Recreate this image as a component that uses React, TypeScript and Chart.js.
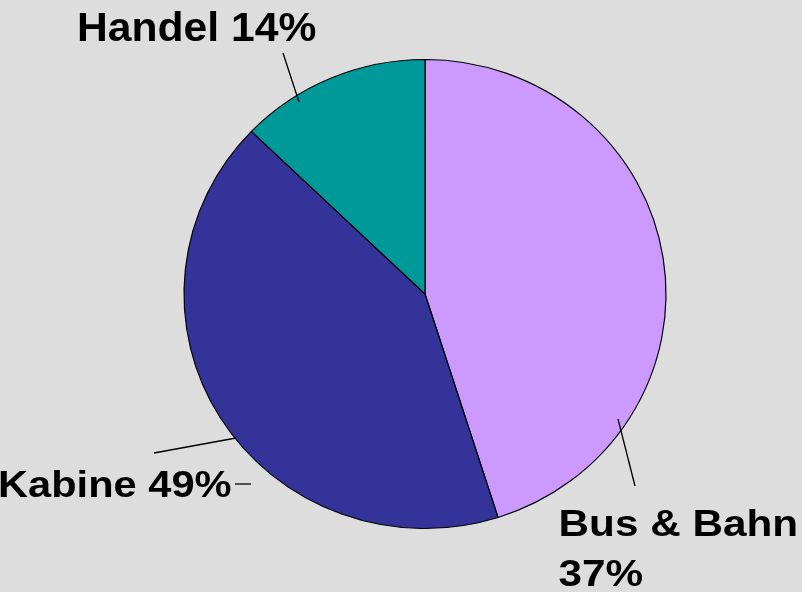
import React, { useEffect, useRef } from "react";
import { Chart, registerables } from "chart.js";

Chart.register(...registerables);

// ---- data ----
const categories = ["Bus & Bahn", "Kabine", "Handel"];
const sliceValues = [45.1, 42.1, 12.8];
const labelLines = [["Bus & Bahn", "37%"], ["Kabine 49%"], ["Handel 14%"]];
const sliceColors = ["#CC99FF", "#333399", "#009999"];

// ---- styles ----
const BG = "#DDDDDD";
const ELLIPSE_Y = 0.973;
const FONT_FAMILY = "'Liberation Sans', Arial, sans-serif";
const LINE_HEIGHT = 50;
const labelPlacements = [
  { x: 558.5, y: 536, size: 37.3, sx: 1.134, line: [618, 419, 635, 486] as number[], tick: null as number[] | null },
  { x: -2, y: 497, size: 36.5, sx: 1.14, line: [236, 438, 154, 453], tick: [235, 484, 251, 484] },
  { x: 77, y: 41, size: 40.5, sx: 1.053, line: [299, 102, 283, 53], tick: null },
];

const ellipsePlugin = {
  id: "ellipse",
  beforeDatasetsDraw(chart: any) {
    const arc = chart.getDatasetMeta(0).data[0];
    if (!arc) return;
    const ctx = chart.ctx;
    ctx.save();
    ctx.translate(arc.x, arc.y);
    ctx.scale(1, ELLIPSE_Y);
    ctx.translate(-arc.x, -arc.y);
  },
  afterDatasetsDraw(chart: any) {
    chart.ctx.restore();
  },
};

const labelPlugin = {
  id: "pieLabels",
  afterDraw(chart: any) {
    const ctx = chart.ctx;
    ctx.save();
    ctx.fillStyle = "#000";
    ctx.strokeStyle = "#000";
    ctx.textBaseline = "alphabetic";
    ctx.textAlign = "left";
    labelLines.forEach((lines, i) => {
      const p = labelPlacements[i];
      ctx.font = `bold ${p.size}px ${FONT_FAMILY}`;
      lines.forEach((t, j) => {
        ctx.save();
        ctx.translate(p.x, p.y + j * LINE_HEIGHT);
        ctx.scale(p.sx, 1);
        ctx.fillText(t, 0, 0);
        ctx.restore();
      });
      ctx.lineWidth = 1.3;
      ctx.beginPath();
      ctx.moveTo(p.line[0], p.line[1]);
      ctx.lineTo(p.line[2], p.line[3]);
      ctx.stroke();
      if (p.tick) {
        ctx.beginPath();
        ctx.moveTo(p.tick[0], p.tick[1]);
        ctx.lineTo(p.tick[2], p.tick[3]);
        ctx.stroke();
      }
    });
    ctx.restore();
  },
};

export default function App() {
  const ref = useRef<HTMLCanvasElement>(null);
  useEffect(() => {
    if (!ref.current) return;
    const chart = new Chart(ref.current, {
      type: "pie",
      data: {
        labels: categories,
        datasets: [
          {
            data: sliceValues,
            backgroundColor: sliceColors,
            borderColor: "#000000",
            borderWidth: 1.2,
          },
        ],
      },
      options: {
        responsive: false,
        animation: false,
        events: [],
        radius: 241,
        layout: { padding: { left: 183, right: 135, top: 53, bottom: 57 } },
        plugins: {
          legend: { display: false },
          tooltip: { enabled: false },
        },
      } as any,
      plugins: [ellipsePlugin, labelPlugin],
    });
    return () => chart.destroy();
  }, []);
  return (
    <div style={{ position: "fixed", left: 0, top: 0, width: 802, height: 592, background: BG }}>
      <canvas ref={ref} width={802} height={592} style={{ display: "block", width: 802, height: 592 }} />
    </div>
  );
}
